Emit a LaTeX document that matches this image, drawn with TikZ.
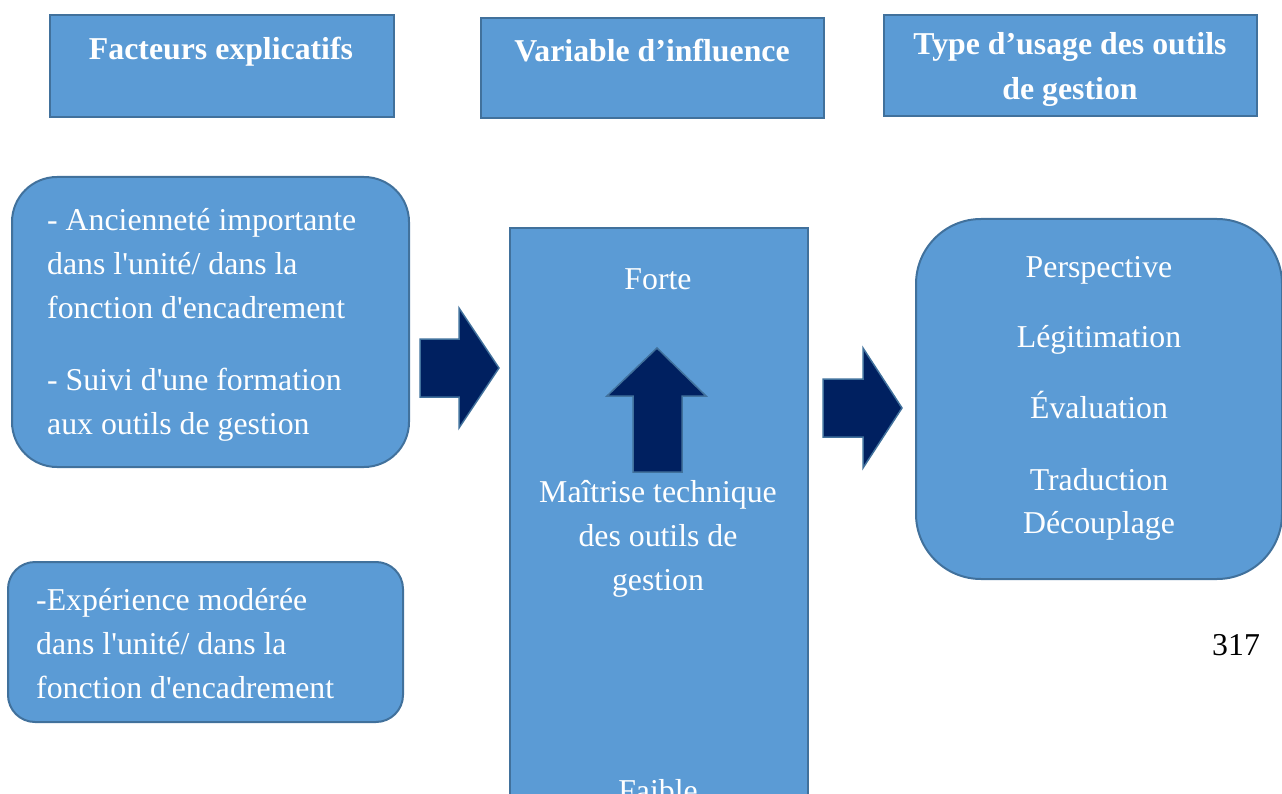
\documentclass[tikz,border=0pt]{standalone}
\usepackage{fontspec}
\setmainfont{Liberation Serif}
\font\bodyf="Liberation Serif" at 31.8pt
\font\titlef="Liberation Serif/B" at 31.8pt
\definecolor{boxfill}{HTML}{5B9BD5}
\definecolor{boxline}{HTML}{41719C}
\definecolor{navy}{HTML}{002060}
\begin{document}
\begin{tikzpicture}[x=1pt,y=-1pt,
  box/.style={fill=boxfill,draw=boxline,line width=2pt,inner sep=0pt,anchor=north west},
  blockarrow/.style={fill=navy,draw=boxline,line width=1.5pt,line join=miter},
  titletxt/.style={font=\titlef,text=white,inner sep=0pt,anchor=base},
  bodytxt/.style={font=\bodyf,text=white,inner sep=0pt,anchor=base},
  bodyleft/.style={bodytxt,anchor=base west}]
\useasboundingbox (0,0) rectangle (1282,794);
\clip (0,0) rectangle (1282,794);
% header boxes
\node[box,minimum width=344pt,minimum height=102pt] (t1) at (49,14) {};
\node[box,minimum width=343pt,minimum height=100pt] (t2) at (480,17) {};
\node[box,minimum width=373pt,minimum height=101pt] (t3) at (883,14) {};
% content boxes
\node[box,rounded corners=45pt,minimum width=397pt,minimum height=290pt] (b1) at (11,176) {};
\node[box,rounded corners=27pt,minimum width=395pt,minimum height=160pt] (b2) at (7,561) {};
\node[box,minimum width=298pt,minimum height=620pt] (c) at (509,227) {};
\node[box,rounded corners=65pt,minimum width=366pt,minimum height=360pt] (r) at (915,218) {};
% block arrows
\draw[blockarrow] (420,339) -- (459,339) -- (459,308) -- (499,368) -- (459,428) -- (459,397) -- (420,397) -- cycle;
\draw[blockarrow] (633,472) -- (633,396) -- (607,396) -- (657,348) -- (706,396) -- (682,396) -- (682,472) -- cycle;
\draw[blockarrow] (823,379) -- (863,379) -- (863,348) -- (902,408) -- (863,468) -- (863,437) -- (823,437) -- cycle;
% header titles
\node[titletxt] (h1) at (221,60) {Facteurs explicatifs};
\node[titletxt] (h2) at (652,62) {Variable d’influence};
\node[titletxt] (h3a) at (1070,55) {Type d’usage des outils};
\node[titletxt] (h3b) at (1070,100) {de gestion};
% left box 1
\node[bodyleft] (l1) at (47,231) {- Ancienneté importante};
\node[bodyleft] (l2) at (47,275) {dans l'unité/ dans la};
\node[bodyleft] (l3) at (47,319) {fonction d'encadrement};
\node[bodyleft] (l4) at (47,390) {- Suivi d'une formation};
\node[bodyleft] (l5) at (47,434) {aux outils de gestion};
% left box 2
\node[bodyleft] (m1) at (36,610) {-Expérience modérée};
\node[bodyleft] (m2) at (36,654) {dans l'unité/ dans la};
\node[bodyleft] (m3) at (36,698) {fonction d'encadrement};
% centre
\node[bodytxt] (c1) at (658,290) {Forte};
\node[bodytxt] (c2) at (658,502) {Maîtrise technique};
\node[bodytxt] (c3) at (658,546) {des outils de};
\node[bodytxt] (c4) at (658,590) {gestion};
\node[bodytxt] (c5) at (658,801) {Faible};
% right
\node[bodytxt] (r1) at (1099,278) {Perspective};
\node[bodytxt] (r2) at (1099,347) {Légitimation};
\node[bodytxt] (r3) at (1099,418) {Évaluation};
\node[bodytxt] (r4) at (1099,490) {Traduction};
\node[bodytxt] (r5) at (1099,533) {Découplage};
% page number
\node[bodyleft,text=black] (pg) at (1212,655) {317};
\end{tikzpicture}
\end{document}
